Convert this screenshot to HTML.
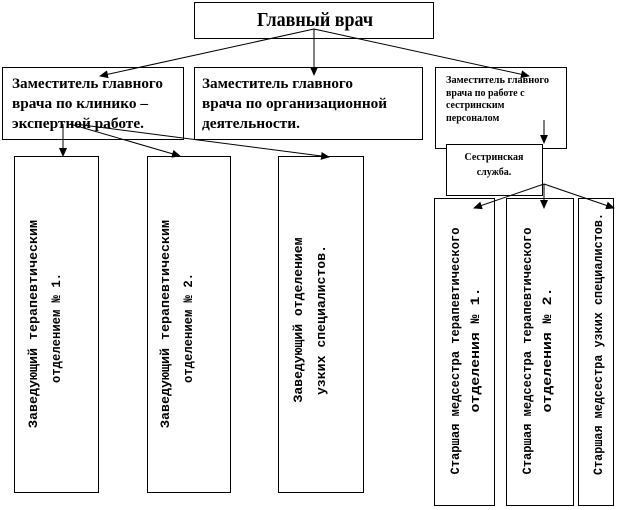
<!DOCTYPE html>
<html><head><meta charset="utf-8"><style>html,body{margin:0;padding:0;background:#fff}svg{display:block}</style></head>
<body>
<svg width="619" height="510" xmlns="http://www.w3.org/2000/svg">
<defs><marker id="a" markerWidth="9" markerHeight="8" refX="8" refY="4" orient="auto" markerUnits="userSpaceOnUse"><path d="M0,0 L9,4 L0,8 z" fill="#000"/></marker></defs>
<g fill="#fff" stroke="#000" stroke-width="1">
<rect x="194.5" y="2.5" width="239" height="36"/>
<rect x="2.5" y="67.5" width="181" height="72"/>
<rect x="194.5" y="67.5" width="228" height="72"/>
<rect x="435.5" y="67.5" width="131" height="81"/>
<rect x="446.5" y="144.5" width="96" height="51"/>
<rect x="14.5" y="156.5" width="84" height="336"/>
<rect x="147.5" y="156.5" width="83" height="336"/>
<rect x="278.5" y="156.5" width="85" height="336"/>
<rect x="434.5" y="198.5" width="60" height="307"/>
<rect x="506.5" y="198.5" width="67" height="307"/>
<rect x="578.5" y="198.5" width="35" height="307"/>
</g>
<g stroke="#000" stroke-width="1" fill="none" marker-end="url(#a)">
<line x1="314" y1="29" x2="100" y2="76"/>
<line x1="314" y1="29" x2="314" y2="75"/>
<line x1="314" y1="29" x2="529" y2="76"/>
<line x1="544" y1="120" x2="544" y2="143"/>
<line x1="63" y1="124" x2="63" y2="156"/>
<line x1="70" y1="124" x2="180" y2="156"/>
<line x1="75" y1="124" x2="329" y2="157"/>
<line x1="544" y1="184" x2="474" y2="208"/>
<line x1="544" y1="184" x2="544" y2="208"/>
<line x1="544" y1="184" x2="614" y2="208"/>
</g>
<g font-family="Liberation Serif, serif" font-weight="bold" fill="#000">
<text x="257" y="26" font-size="20" textLength="116" lengthAdjust="spacingAndGlyphs">Главный врач</text>
<g font-size="15">
<text x="12" y="88" textLength="151" lengthAdjust="spacingAndGlyphs">Заместитель главного</text>
<text x="12" y="108" textLength="136" lengthAdjust="spacingAndGlyphs">врача по клинико –</text>
<text x="12" y="128" textLength="132" lengthAdjust="spacingAndGlyphs">экспертной работе.</text>
<text x="202" y="88" textLength="151" lengthAdjust="spacingAndGlyphs">Заместитель главного</text>
<text x="202" y="108" textLength="185" lengthAdjust="spacingAndGlyphs">врача по организационной</text>
<text x="202" y="128" textLength="98" lengthAdjust="spacingAndGlyphs">деятельности.</text>
</g>
<g font-size="10">
<text x="446" y="83" textLength="103" lengthAdjust="spacingAndGlyphs">Заместитель главного</text>
<text x="446" y="96">врача по работе с</text>
<text x="446" y="108">сестринским</text>
<text x="446" y="121">персоналом</text>
<text x="494" y="160" text-anchor="middle">Сестринская</text>
<text x="494" y="175" text-anchor="middle">служба.</text>
</g>
</g>
<g font-family="Liberation Mono, monospace" font-size="13" font-weight="bold" fill="#000" text-anchor="middle">
<text transform="translate(37,324) rotate(-90)" textLength="208" lengthAdjust="spacingAndGlyphs">Заведующий терапевтическим</text>
<text transform="translate(60,328) rotate(-90)" textLength="110" lengthAdjust="spacingAndGlyphs">отделением № 1.</text>
<text transform="translate(169,324) rotate(-90)" textLength="208" lengthAdjust="spacingAndGlyphs">Заведующий терапевтическим</text>
<text transform="translate(192,328) rotate(-90)" textLength="110" lengthAdjust="spacingAndGlyphs">отделением № 2.</text>
<text transform="translate(302,320) rotate(-90)" textLength="165" lengthAdjust="spacingAndGlyphs">Заведующий отделением</text>
<text transform="translate(325,320) rotate(-90)" textLength="150" lengthAdjust="spacingAndGlyphs">узких специалистов.</text>
<text transform="translate(459,351) rotate(-90)" textLength="247" lengthAdjust="spacingAndGlyphs">Старшая медсестра терапевтического</text>
<text transform="translate(479,350) rotate(-90)" textLength="125" lengthAdjust="spacingAndGlyphs">отделения № 1.</text>
<text transform="translate(531,351) rotate(-90)" textLength="247" lengthAdjust="spacingAndGlyphs">Старшая медсестра терапевтического</text>
<text transform="translate(551,350) rotate(-90)" textLength="125" lengthAdjust="spacingAndGlyphs">отделения № 2.</text>
<text transform="translate(602,344) rotate(-90)" textLength="262" lengthAdjust="spacingAndGlyphs">Старшая медсестра узких специалистов.</text>
</g>
</svg>
</body></html>
